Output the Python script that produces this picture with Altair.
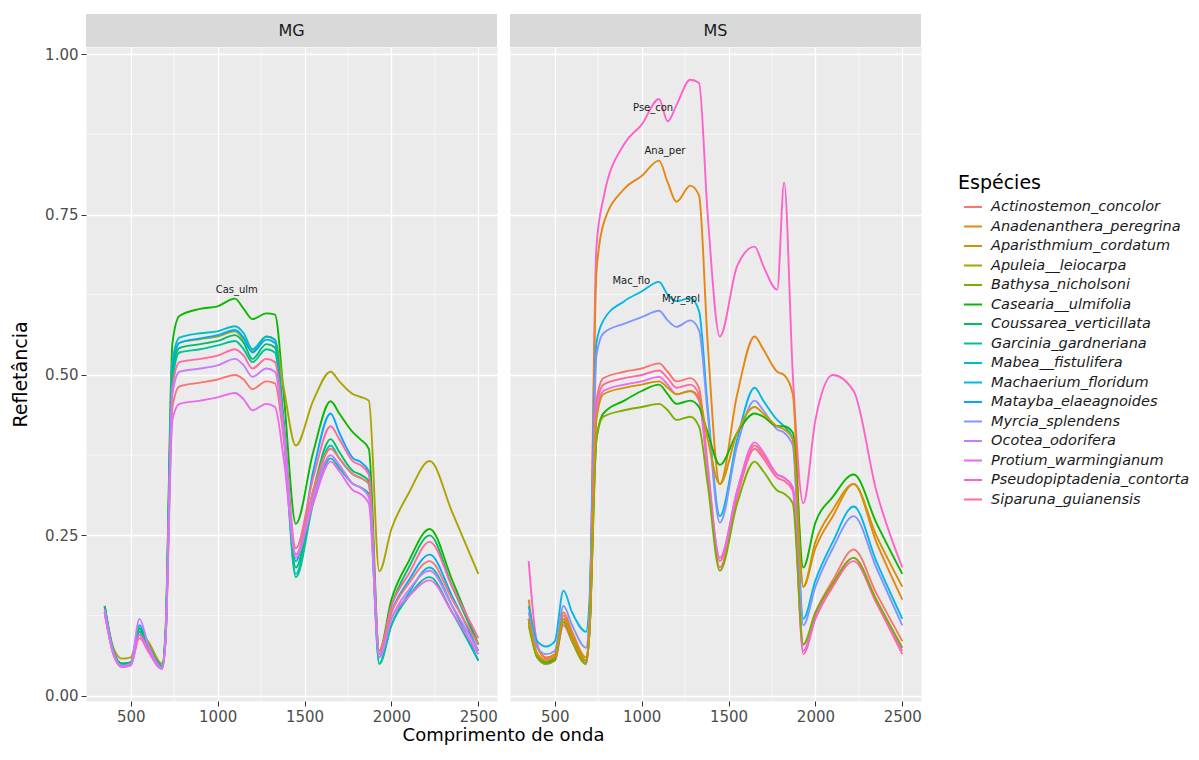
import math
import altair as alt
import pandas as pd

# ---------------- data ----------------
SPECIES = [
    "Actinostemon_concolor", "Anadenanthera_peregrina", "Aparisthmium_cordatum",
    "Apuleia__leiocarpa", "Bathysa_nicholsoni", "Casearia__ulmifolia",
    "Coussarea_verticillata", "Garcinia_gardneriana", "Mabea__fistulifera",
    "Machaerium_floridum", "Matayba_elaeagnoides", "Myrcia_splendens",
    "Ocotea_odorifera", "Protium_warmingianum", "Pseudopiptadenia_contorta",
    "Siparuna_guianensis",
]

WL = [350, 400, 450, 500, 550, 600, 680, 700, 740, 780, 900, 1000, 1100, 1150, 1200,
      1280, 1330, 1380, 1450, 1550, 1650, 1700, 1780, 1820, 1870, 1930, 2000, 2100,
      2220, 2350, 2500]

# MG panel
MG_cas = [0.14, 0.07, 0.05, 0.052, 0.105, 0.08, 0.045, 0.10, 0.55, 0.592, 0.603, 0.607, 0.619, 0.603, 0.587, 0.596, 0.594, 0.47, 0.268, 0.38, 0.459, 0.44, 0.41, 0.40, 0.385, 0.07, 0.15, 0.21, 0.26, 0.18, 0.08]
MG_apu = [0.14, 0.075, 0.058, 0.06, 0.10, 0.085, 0.05, 0.10, 0.52, 0.55, 0.556, 0.56, 0.568, 0.555, 0.537, 0.56, 0.555, 0.48, 0.39, 0.46, 0.505, 0.49, 0.47, 0.466, 0.46, 0.194, 0.26, 0.316, 0.366, 0.286, 0.19]
MG_mab = [0.135, 0.07, 0.048, 0.05, 0.10, 0.075, 0.045, 0.09, 0.52, 0.558, 0.565, 0.568, 0.576, 0.565, 0.54, 0.56, 0.555, 0.42, 0.19, 0.31, 0.39, 0.37, 0.345, 0.34, 0.33, 0.05, 0.11, 0.16, 0.20, 0.14, 0.055]
MG_mat = [0.14, 0.07, 0.05, 0.052, 0.11, 0.08, 0.047, 0.09, 0.51, 0.55, 0.557, 0.562, 0.570, 0.558, 0.535, 0.555, 0.55, 0.43, 0.21, 0.35, 0.44, 0.41, 0.37, 0.365, 0.35, 0.06, 0.13, 0.18, 0.22, 0.155, 0.07]
MG_cou = [0.14, 0.07, 0.05, 0.052, 0.105, 0.08, 0.046, 0.09, 0.50, 0.542, 0.548, 0.553, 0.562, 0.55, 0.525, 0.548, 0.543, 0.42, 0.20, 0.32, 0.40, 0.38, 0.35, 0.345, 0.335, 0.065, 0.14, 0.20, 0.25, 0.17, 0.08]
MG_gar = [0.13, 0.068, 0.048, 0.05, 0.10, 0.075, 0.045, 0.09, 0.49, 0.535, 0.54, 0.546, 0.553, 0.54, 0.52, 0.54, 0.535, 0.41, 0.185, 0.30, 0.37, 0.355, 0.33, 0.325, 0.315, 0.05, 0.11, 0.155, 0.185, 0.13, 0.055]
MG_sip = [0.13, 0.065, 0.045, 0.048, 0.09, 0.07, 0.042, 0.085, 0.48, 0.52, 0.525, 0.53, 0.54, 0.53, 0.51, 0.525, 0.52, 0.42, 0.23, 0.34, 0.42, 0.40, 0.365, 0.36, 0.345, 0.07, 0.14, 0.19, 0.24, 0.17, 0.09]
MG_act = [0.13, 0.065, 0.046, 0.05, 0.095, 0.072, 0.043, 0.085, 0.45, 0.482, 0.488, 0.493, 0.50, 0.493, 0.478, 0.49, 0.487, 0.40, 0.22, 0.32, 0.385, 0.37, 0.345, 0.34, 0.33, 0.07, 0.13, 0.175, 0.21, 0.15, 0.08]
MG_pro = [0.13, 0.065, 0.045, 0.047, 0.095, 0.07, 0.042, 0.085, 0.43, 0.455, 0.46, 0.465, 0.472, 0.462, 0.445, 0.455, 0.45, 0.37, 0.22, 0.30, 0.365, 0.35, 0.32, 0.315, 0.30, 0.065, 0.12, 0.155, 0.18, 0.13, 0.065]
MG_oco = [0.135, 0.068, 0.047, 0.05, 0.12, 0.08, 0.044, 0.088, 0.47, 0.505, 0.51, 0.515, 0.525, 0.515, 0.497, 0.51, 0.505, 0.41, 0.215, 0.31, 0.375, 0.36, 0.33, 0.325, 0.31, 0.06, 0.12, 0.165, 0.195, 0.14, 0.07]

# MS panel
MS_pse = [0.21, 0.08, 0.058, 0.062, 0.125, 0.095, 0.055, 0.12, 0.70, 0.775, 0.86, 0.89, 0.93, 0.895, 0.92, 0.96, 0.955, 0.75, 0.56, 0.67, 0.70, 0.67, 0.633, 0.80, 0.50, 0.30, 0.43, 0.50, 0.475, 0.32, 0.20]
MS_ana = [0.15, 0.075, 0.06, 0.065, 0.13, 0.10, 0.06, 0.12, 0.66, 0.735, 0.79, 0.81, 0.834, 0.80, 0.77, 0.795, 0.78, 0.55, 0.33, 0.47, 0.56, 0.54, 0.505, 0.50, 0.47, 0.17, 0.23, 0.28, 0.33, 0.24, 0.15]
MS_mac = [0.14, 0.085, 0.077, 0.085, 0.164, 0.13, 0.10, 0.15, 0.55, 0.585, 0.615, 0.63, 0.645, 0.625, 0.615, 0.62, 0.60, 0.45, 0.28, 0.40, 0.48, 0.46, 0.43, 0.42, 0.40, 0.12, 0.18, 0.24, 0.295, 0.21, 0.12]
MS_myr = [0.13, 0.075, 0.065, 0.07, 0.14, 0.11, 0.075, 0.13, 0.53, 0.565, 0.58, 0.59, 0.60, 0.585, 0.575, 0.585, 0.57, 0.44, 0.27, 0.39, 0.46, 0.445, 0.415, 0.41, 0.39, 0.11, 0.17, 0.23, 0.28, 0.20, 0.11]
MS_act = [0.12, 0.065, 0.055, 0.058, 0.12, 0.09, 0.055, 0.11, 0.46, 0.495, 0.505, 0.51, 0.518, 0.505, 0.49, 0.495, 0.48, 0.36, 0.21, 0.32, 0.39, 0.375, 0.345, 0.34, 0.325, 0.08, 0.13, 0.18, 0.228, 0.16, 0.085]
MS_sip = [0.12, 0.06, 0.05, 0.055, 0.11, 0.085, 0.05, 0.10, 0.45, 0.485, 0.495, 0.50, 0.507, 0.495, 0.48, 0.485, 0.47, 0.35, 0.20, 0.31, 0.385, 0.37, 0.34, 0.335, 0.32, 0.065, 0.12, 0.17, 0.21, 0.145, 0.065]
MS_pro = [0.12, 0.06, 0.05, 0.055, 0.115, 0.085, 0.05, 0.10, 0.44, 0.475, 0.485, 0.49, 0.497, 0.485, 0.47, 0.475, 0.46, 0.35, 0.215, 0.32, 0.395, 0.38, 0.345, 0.34, 0.325, 0.07, 0.125, 0.175, 0.215, 0.15, 0.07]
MS_cas = [0.12, 0.06, 0.052, 0.057, 0.12, 0.09, 0.055, 0.10, 0.40, 0.44, 0.46, 0.475, 0.485, 0.47, 0.455, 0.46, 0.45, 0.41, 0.36, 0.41, 0.44, 0.435, 0.42, 0.42, 0.41, 0.20, 0.27, 0.31, 0.345, 0.27, 0.19]
MS_bat = [0.11, 0.06, 0.05, 0.055, 0.115, 0.085, 0.05, 0.10, 0.40, 0.435, 0.445, 0.45, 0.455, 0.445, 0.43, 0.435, 0.42, 0.33, 0.195, 0.30, 0.365, 0.35, 0.32, 0.315, 0.30, 0.08, 0.13, 0.175, 0.215, 0.15, 0.075]
MS_apa = [0.12, 0.065, 0.055, 0.06, 0.12, 0.09, 0.055, 0.10, 0.43, 0.47, 0.48, 0.485, 0.49, 0.48, 0.47, 0.475, 0.465, 0.40, 0.33, 0.41, 0.45, 0.44, 0.42, 0.415, 0.40, 0.17, 0.24, 0.29, 0.33, 0.25, 0.17]

MG_SERIES = {
    "Casearia__ulmifolia": MG_cas, "Apuleia__leiocarpa": MG_apu,
    "Mabea__fistulifera": MG_mab, "Matayba_elaeagnoides": MG_mat,
    "Coussarea_verticillata": MG_cou, "Garcinia_gardneriana": MG_gar,
    "Siparuna_guianensis": MG_sip, "Actinostemon_concolor": MG_act,
    "Protium_warmingianum": MG_pro, "Ocotea_odorifera": MG_oco,
}
MS_SERIES = {
    "Pseudopiptadenia_contorta": MS_pse, "Anadenanthera_peregrina": MS_ana,
    "Machaerium_floridum": MS_mac, "Myrcia_splendens": MS_myr,
    "Actinostemon_concolor": MS_act, "Siparuna_guianensis": MS_sip,
    "Protium_warmingianum": MS_pro, "Casearia__ulmifolia": MS_cas,
    "Bathysa_nicholsoni": MS_bat, "Aparisthmium_cordatum": MS_apa,
}

LABEL_TEXT = {"MG": ["Cas_ulm"], "MS": ["Pse_con", "Ana_per", "Mac_flo", "Myr_spl"]}
LABEL_WL = {"MG": [1110], "MS": [1066, 1134, 940, 1226]}
LABEL_Y = {"MG": [0.633], "MS": [0.916, 0.849, 0.647, 0.618]}

X_MAJOR = [500, 1000, 1500, 2000, 2500]
X_MINOR = [750, 1250, 1750, 2250]
Y_MAJOR = [0.0, 0.25, 0.5, 0.75, 1.0]
Y_MINOR = [0.125, 0.375, 0.625, 0.875]


# ---------------- colours (ggplot hue palette) ----------------
def hcl_hex(h, c=100.0, l=65.0):
    Xn, Yn, Zn = 95.047, 100.0, 108.883
    hr = math.radians(h)
    u, v = c * math.cos(hr), c * math.sin(hr)
    Y = Yn * ((l + 16) / 116) ** 3
    den = Xn + 15 * Yn + 3 * Zn
    un, vn = 4 * Xn / den, 9 * Yn / den
    up, vp = u / (13 * l) + un, v / (13 * l) + vn
    X = Y * 9 * up / (4 * vp)
    Z = Y * (12 - 3 * up - 20 * vp) / (4 * vp)
    X, Y, Z = X / 100, Y / 100, Z / 100
    rgb = [3.240479 * X - 1.537150 * Y - 0.498535 * Z,
           -0.969256 * X + 1.875992 * Y + 0.041556 * Z,
           0.055648 * X - 0.204043 * Y + 1.057311 * Z]
    out = []
    for t in rgb:
        t = 1.055 * t ** (1 / 2.4) - 0.055 if t > 0.0031308 else 12.92 * t
        out.append(int(round(min(1, max(0, t)) * 255)))
    return "#%02X%02X%02X" % tuple(out)


COLORS = [hcl_hex(15 + i * 360 / 16) for i in range(16)]

rows = []
for panel, series in (("MG", MG_SERIES), ("MS", MS_SERIES)):
    for sp, vals in series.items():
        for w, r in zip(WL, vals):
            rows.append({"panel": panel, "species": sp, "wl": w, "refl": r})
lines_df = pd.DataFrame(rows)

W, H = 411, 654
FONT = "DejaVu Sans"
XDOM = [242.5, 2607.5]
YDOM = [-0.008, 1.011]


def xenc(field="wl"):
    return alt.X(f"{field}:Q", scale=alt.Scale(domain=XDOM, nice=False, zero=False),
                 axis=alt.Axis(values=X_MAJOR, title=None, format="d"))


def yenc(show):
    if show:
        ax = alt.Axis(values=Y_MAJOR, format=".2f", title="Refletância", titlePadding=14)
    else:
        ax = alt.Axis(values=Y_MAJOR, labels=False, ticks=False, title=None)
    return alt.Y("refl:Q", scale=alt.Scale(domain=YDOM, nice=False, zero=False), axis=ax)


color = alt.Color(
    "species:N",
    scale=alt.Scale(domain=SPECIES, range=COLORS),
    legend=alt.Legend(title="Espécies", orient="none", legendX=872, legendY=127,
                      symbolType="stroke", symbolStrokeWidth=2, symbolSize=324,
                      symbolOffset=5,
                      labelFontStyle="italic", labelFontSize=14.5, labelColor="#1A1A1A",
                      labelFont=FONT, titleFont=FONT, titleFontSize=19,
                      titleFontWeight="normal", titleColor="black", rowPadding=2.5,
                      labelOffset=8, labelLimit=400, titlePadding=4, padding=0),
)


def panel(name, show_y):
    df = lines_df[lines_df.panel == name]
    minor_x = alt.Chart(pd.DataFrame({"wl": X_MINOR})).mark_rule(
        color="white", strokeWidth=0.6).encode(x=xenc())
    minor_y = alt.Chart(pd.DataFrame({"refl": Y_MINOR})).mark_rule(
        color="white", strokeWidth=0.6).encode(y=yenc(show_y))
    lines = alt.Chart(df).mark_line(strokeWidth=1.9, clip=True,
                                    interpolate="monotone").encode(
        x=xenc(), y=yenc(show_y), color=color, order=alt.Order("wl:Q"))
    lab_df = pd.DataFrame({"wl": LABEL_WL[name], "refl": LABEL_Y[name],
                           "txt": LABEL_TEXT[name]})
    labels = alt.Chart(lab_df).mark_text(fontSize=10, font=FONT, color="#1A1A1A").encode(
        x=xenc(), y=yenc(show_y), text="txt:N")
    dummy = pd.DataFrame({"a": [0]})
    strip = alt.Chart(dummy).mark_rect(color="#D9D9D9").encode(
        x=alt.value(0), x2=alt.value(W), y=alt.value(-33), y2=alt.value(0))
    strip_txt = alt.Chart(dummy).mark_text(fontSize=16, font=FONT, color="#1A1A1A",
                                           baseline="middle").encode(
        x=alt.value(W / 2), y=alt.value(-16.5), text=alt.value(name))
    layers = [minor_x, minor_y, lines, labels, strip, strip_txt]
    if show_y:
        xt = alt.Chart(dummy).mark_text(fontSize=18, font=FONT, color="black",
                                        baseline="middle").encode(
            x=alt.value(W + 6.5), y=alt.value(H + 35), text=alt.value("Comprimento de onda"))
        layers.append(xt)
    return alt.layer(*layers).properties(width=W, height=H)


chart = alt.hconcat(panel("MG", True), panel("MS", False), spacing=13,
                    bounds="flush").properties(
    padding={"left": 3, "top": 5, "right": 0, "bottom": 0},
    background="white",
).configure_view(fill="#EBEBEB", stroke="transparent").configure_axis(
    gridColor="white", gridWidth=1.3, domain=False, tickColor="#333333", tickSize=5,
    labelColor="#4D4D4D", labelFont=FONT, labelFontSize=15, labelPadding=3,
    titleFont=FONT, titleFontSize=19, titleFontWeight="normal", titleColor="black",
)

chart.save("out.html", embed_options={"renderer": "svg", "actions": False})
